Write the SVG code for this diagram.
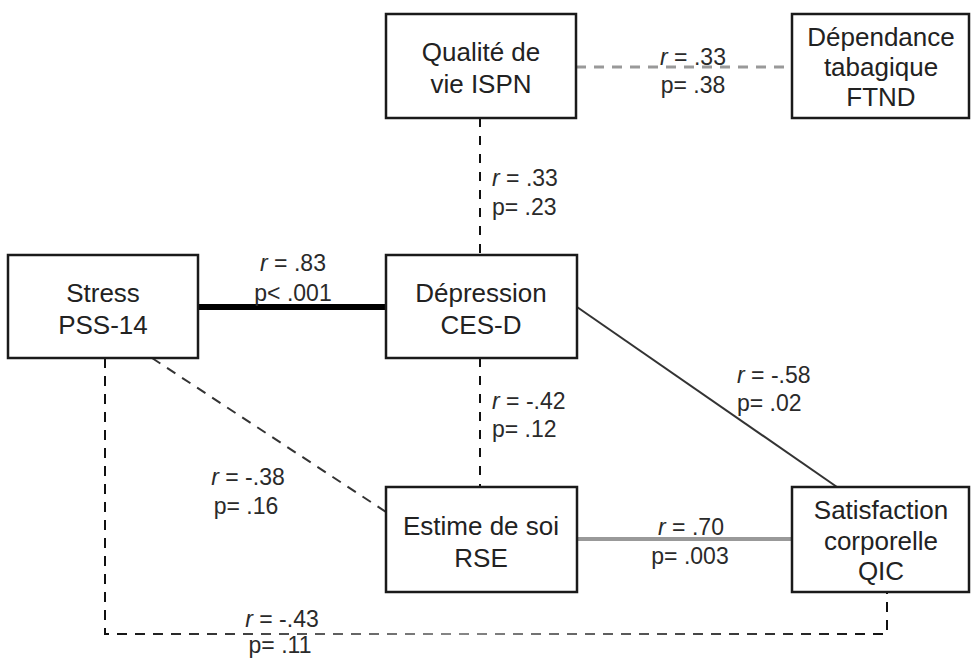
<svg xmlns="http://www.w3.org/2000/svg" width="971" height="660" viewBox="0 0 971 660">
<style>
.box{fill:#fff;stroke:#1a1a1a;stroke-width:2.5}
.nt{font-family:"Liberation Sans",Arial,sans-serif;font-size:26px;fill:#222;text-anchor:middle;dominant-baseline:central}
.lb{font-family:"Liberation Sans",Arial,sans-serif;font-size:23px;fill:#2a2a2a;dominant-baseline:central}
.c{text-anchor:middle}
.s{text-anchor:start}
.it{font-style:italic}
</style>
<defs>
<linearGradient id="bot" x1="0" y1="0" x2="1" y2="0">
<stop offset="0" stop-color="#111"/>
<stop offset="0.45" stop-color="#888"/>
<stop offset="1" stop-color="#111"/>
</linearGradient>
</defs>
<g id="connectors" fill="none">
<line x1="576" y1="67" x2="792" y2="67" stroke="#999" stroke-width="3" stroke-dasharray="10 8"/>
<line x1="480" y1="118" x2="480" y2="255" stroke="#111" stroke-width="2" stroke-dasharray="9 9"/>
<line x1="198" y1="307" x2="386" y2="307" stroke="#000" stroke-width="6"/>
<line x1="480" y1="358" x2="480" y2="487" stroke="#111" stroke-width="2" stroke-dasharray="9 9"/>
<line x1="577" y1="307" x2="837" y2="487" stroke="#333" stroke-width="2"/>
<line x1="152" y1="358" x2="386" y2="512" stroke="#333" stroke-width="2" stroke-dasharray="10 8"/>
<line x1="577" y1="539" x2="792" y2="539" stroke="#999" stroke-width="4"/>
<path d="M105 358 V634 H887 V592" stroke="url(#bot)" stroke-width="2" stroke-dasharray="10 8"/>
</g>
<g id="labels">
<text class="lb c" x="693" y="57"><tspan class="it">r</tspan> = .33</text>
<text class="lb c" x="693" y="85">p= .38</text>
<text class="lb s" x="492" y="178"><tspan class="it">r</tspan> = .33</text>
<text class="lb s" x="492" y="207">p= .23</text>
<text class="lb c" x="293" y="263"><tspan class="it">r</tspan> = .83</text>
<text class="lb c" x="293" y="293">p&lt; .001</text>
<text class="lb s" x="492" y="401"><tspan class="it">r</tspan> = -.42</text>
<text class="lb s" x="492" y="429">p= .12</text>
<text class="lb s" x="737" y="375"><tspan class="it">r</tspan> = -.58</text>
<text class="lb s" x="737" y="403">p= .02</text>
<text class="lb c" x="248" y="477"><tspan class="it">r</tspan> = -.38</text>
<text class="lb c" x="246" y="506">p= .16</text>
<text class="lb c" x="691" y="527"><tspan class="it">r</tspan> = .70</text>
<text class="lb c" x="690" y="556">p= .003</text>
<text class="lb c" x="282" y="619"><tspan class="it">r</tspan> = -.43</text>
<text class="lb c" x="280" y="645">p= .11</text>
</g>
<g id="qualite">
<rect class="box" x="386" y="14" width="190" height="104"/>
<text class="nt" x="481" y="52">Qualité de</text>
<text class="nt" x="481" y="84">vie ISPN</text>
</g>
<g id="dependance">
<rect class="box" x="792" y="14" width="177" height="104"/>
<text class="nt" x="881" y="37">Dépendance</text>
<text class="nt" x="881" y="67">tabagique</text>
<text class="nt" x="881" y="97">FTND</text>
</g>
<g id="stress">
<rect class="box" x="8" y="255" width="190" height="103"/>
<text class="nt" x="103" y="293">Stress</text>
<text class="nt" x="103" y="325">PSS-14</text>
</g>
<g id="depression">
<rect class="box" x="386" y="255" width="191" height="103"/>
<text class="nt" x="481" y="293">Dépression</text>
<text class="nt" x="481" y="325">CES-D</text>
</g>
<g id="estime">
<rect class="box" x="386" y="487" width="191" height="105"/>
<text class="nt" x="481" y="526">Estime de soi</text>
<text class="nt" x="481" y="558">RSE</text>
</g>
<g id="satisfaction">
<rect class="box" x="792" y="487" width="177" height="105"/>
<text class="nt" x="881" y="510">Satisfaction</text>
<text class="nt" x="881" y="541">corporelle</text>
<text class="nt" x="881" y="571">QIC</text>
</g>
</svg>
